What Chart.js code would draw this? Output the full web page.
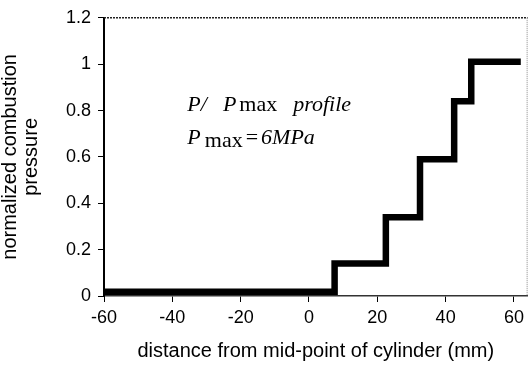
<!DOCTYPE html>
<html>
<head>
<meta charset="utf-8">
<script src="https://cdn.jsdelivr.net/npm/chart.js@4.4.0/dist/chart.umd.min.js"></script>
<style>
  html, body { margin: 0; padding: 0; background: #fff; }
</style>
</head>
<body>
<canvas id="pressureChart" width="529" height="367"></canvas>
<script>
// step profile: x = distance (mm), y = P/Pmax
const distance = [-60, 7.5, 22.5, 32.5, 42.5, 47.5, 62];
const pressure = [0.018, 0.14, 0.34, 0.59, 0.84, 1.01, 1.01];

const xTicks = [-60, -40, -20, 0, 20, 40, 60];
const yTicks = [0, 0.2, 0.4, 0.6, 0.8, 1, 1.2];

// annotation anchor, in data units
const noteX = -35.6;
const noteLines = [0.80, 0.655];

const framePlugin = {
    id: 'frame',
    beforeDatasetsDraw(chart) {
        const { ctx, chartArea } = chart;
        ctx.save();
        // top border
        ctx.strokeStyle = '#222';
        ctx.lineWidth = 1.5;
        ctx.setLineDash([2, 1]);
        ctx.beginPath();
        ctx.moveTo(chartArea.left, chartArea.top);
        ctx.lineTo(chartArea.right, chartArea.top);
        ctx.stroke();
        // right border
        ctx.strokeStyle = '#888';
        ctx.lineWidth = 1;
        ctx.setLineDash([1, 1]);
        ctx.beginPath();
        ctx.moveTo(chartArea.right - 0.5, chartArea.top);
        ctx.lineTo(chartArea.right - 0.5, chartArea.bottom);
        ctx.stroke();
        ctx.restore();
    },
    afterDraw(chart) {
        const { ctx, scales } = chart;
        const x0 = scales.x.getPixelForValue(noteX);
        const y1 = scales.y.getPixelForValue(noteLines[0]);
        const y2 = scales.y.getPixelForValue(noteLines[1]);
        const it = 'italic 22px "Liberation Serif"';
        const up = '22px "Liberation Serif"';
        ctx.save();
        ctx.fillStyle = '#000';
        ctx.textBaseline = 'alphabetic';
        const run = (parts, x, y) => {
            parts.forEach(([txt, font, dy, gap]) => {
                ctx.font = font;
                ctx.fillText(txt, x, y + (dy || 0));
                x += ctx.measureText(txt).width + (gap || 0);
            });
        };
        run([['P/', it, 0, 16], ['P', it, 0, 3], ['max', up, 0, 16], ['profile', it]], x0, y1);
        run([['P', it, 0, 4], ['max', up, 3, 3], ['=', up, 0, 3], ['6MPa', it]], x0, y2);
        ctx.restore();
    }
};

const ctx = document.getElementById('pressureChart').getContext('2d');
new Chart(ctx, {
    type: 'line',
    data: {
        datasets: [{
            data: distance.map((d, i) => ({ x: d, y: pressure[i] })),
            stepped: 'before',
            borderColor: '#000',
            borderWidth: 6.5,
            borderCapStyle: 'butt',
            borderJoinStyle: 'miter',
            pointRadius: 0,
            fill: false
        }]
    },
    options: {
        responsive: false,
        animation: false,
        events: [],
        layout: { padding: { top: 14, right: 1, left: 0, bottom: 0 } },
        plugins: {
            legend: { display: false },
            tooltip: { enabled: false }
        },
        scales: {
            x: {
                type: 'linear',
                min: -60,
                max: 64,
                afterBuildTicks: s => { s.ticks = xTicks.map(v => ({ value: v })); },
                afterFit: s => { s.height = 71; },
                grid: { drawOnChartArea: false, drawTicks: true, tickLength: 6, color: '#000', lineWidth: 1 },
                border: { display: true, color: '#333', width: 1.5, dash: [2, 1] },
                ticks: {
                    color: '#000',
                    padding: 5,
                    maxRotation: 0,
                    font: { family: 'Liberation Sans', size: 18 }
                },
                title: {
                    display: true,
                    text: 'distance from mid-point of cylinder (mm)',
                    color: '#000',
                    font: { family: 'Liberation Sans', size: 20, lineHeight: 1 },
                    padding: { top: 0, bottom: 6 }
                }
            },
            y: {
                min: 0,
                max: 1.2,
                afterBuildTicks: s => { s.ticks = yTicks.map(v => ({ value: v })); },
                afterFit: s => { s.width = 104; },
                grid: { drawOnChartArea: false, drawTicks: true, tickLength: 6, color: '#000', lineWidth: 1 },
                border: { display: true, color: '#000', width: 2 },
                ticks: {
                    color: '#000',
                    padding: 7,
                    font: { family: 'Liberation Sans', size: 18 },
                    callback: v => String(Math.round(v * 10) / 10)
                },
                title: {
                    display: true,
                    text: ['normalized combustion', 'pressure'],
                    color: '#000',
                    font: { family: 'Liberation Sans', size: 20, lineHeight: 1.05 },
                    padding: { top: 0, bottom: 0 }
                }
            }
        }
    },
    plugins: [framePlugin]
});
</script>
</body>
</html>
